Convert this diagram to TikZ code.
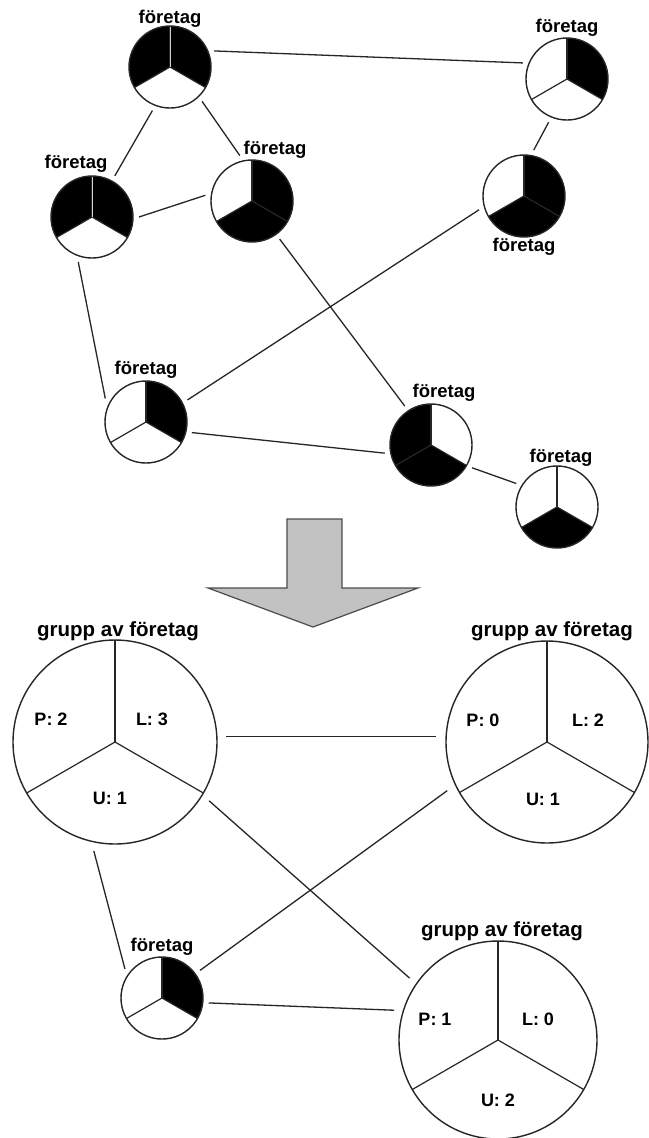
\documentclass[tikz,border=0pt]{standalone}
\usepackage{fontspec}
\setmainfont{Liberation Sans}

% Three-sector pie drawn on a named node; #2 lists the start angles
% of the black sectors (90 = upper left, -30 = upper right, 210 = bottom).
\newcommand\pieat[3][41]{%
  \begin{scope}[shift={(#2.center)},x=1pt,y=1pt]
    \foreach \a in {#3}
      \fill[black] (0,0) -- (\a:#1) arc[start angle=\a,delta angle=120,radius=#1] -- cycle;
    \foreach \a in {90,210,330}
      \draw[spoke] (0,0) -- (\a:#1);
    \draw[rim] (0,0) circle[radius=#1];
  \end{scope}}
% Light divider between two black sectors
\newcommand\lightspoke[1]{%
  \draw[gray!35,line width=1pt] (#1.center) -- ++(0,-40);}

\begin{document}
\begin{tikzpicture}[x=1pt,y=-1pt,
  pienode/.style={circle,minimum size=82pt,inner sep=0pt,outer sep=6pt},
  groupnode/.style={circle,minimum size=204pt,inner sep=0pt,outer sep=9pt},
  tag/.style={font=\bfseries\fontsize{18.5}{20}\selectfont,inner sep=0pt,anchor=base},
  grouptag/.style={font=\bfseries\fontsize{20.5}{22}\selectfont,inner sep=0pt,anchor=base},
  count/.style={font=\bfseries\fontsize{18}{20}\selectfont,inner sep=0pt,anchor=base},
  link/.style={draw=black!85,line width=1.3pt},
  rim/.style={draw=black!85,line width=1.4pt},
  spoke/.style={draw=black!85,line width=1.2pt},
  bigarrow/.style={fill=black!24,draw=black!70,line width=1.2pt,line join=miter},
]
\useasboundingbox (0,0) rectangle (648,1138);
\fill[white] (0,0) rectangle (648,1138);

% ---------- upper network: single firms ----------
\node[pienode] (A) at (170,67) {};
\node[pienode] (B) at (567,79) {};
\node[pienode] (C) at (524,196) {};
\node[pienode] (D) at (92,217) {};
\node[pienode] (E) at (252,201) {};
\node[pienode] (F) at (146,422) {};
\node[pienode] (G) at (431,445) {};
\node[pienode] (H) at (557,507) {};

\node[tag] (tA) at (170,23) {företag};
\node[tag] (tB) at (567,32) {företag};
\node[tag] (tC) at (524,251) {företag};
\node[tag] (tD) at (76,168) {företag};
\node[tag] (tE) at (275,154) {företag};
\node[tag] (tF) at (146,374) {företag};
\node[tag] (tG) at (444,397) {företag};
\node[tag] (tH) at (561,462) {företag};

\draw[link] (A.20) -- (B.160);
\draw[link] (A.-112) -- (D.61);
\draw[link] (A.-47) -- (E.105);
\draw[link] (D.0) -- (E.173);
\draw[link] (B.-113) -- (C.78);
\draw[link] (C.-163) -- (F.28);
\draw[link] (D.-107) -- (F.150);
\draw[link] (E.-54) -- (G.124);
\draw[link] (F.-13) -- (G.-170);
\draw[link] (G.-29) -- (H.150);

\pieat{A}{90,-30}  \lightspoke{A}
\pieat{B}{-30}
\pieat{C}{-30,210}
\pieat{D}{90,-30}  \lightspoke{D}
\pieat{E}{-30,210}
\pieat{F}{-30}
\pieat{G}{90,210}
\pieat{H}{210}

% ---------- transition arrow ----------
\path[bigarrow] (287,519) -- (342,519) -- (342,588) -- (418,588)
  -- (313,627) -- (208,588) -- (287,588) -- cycle;

% ---------- lower network: firm groups ----------
\node[groupnode] (P) at (115,742) {};
\node[groupnode] (Q) at (547,742) {};
\node[groupnode,minimum size=198pt] (R) at (498,1040) {};
\node[pienode] (S) at (162,998) {};

\node[grouptag] (tP) at (118,636) {grupp av företag};
\node[grouptag] (tQ) at (552,636) {grupp av företag};
\node[grouptag] (tR) at (502,936) {grupp av företag};
\node[tag] (tS) at (162,951) {företag};

\draw[link] (P.3) -- (Q.177);
\draw[link] (P.-32) -- (R.145);
\draw[link] (P.-101) -- (S.142);
\draw[link] (Q.-154) -- (S.36);
\draw[link] (S.-6) -- (R.164);

\pieat[102]{P}{}
\pieat[101]{Q}{}
\pieat[99]{R}{}
\pieat{S}{-30}

\node[count] (pP) at (51,725) {P: 2};
\node[count] (lP) at (152,725) {L: 3};
\node[count] (uP) at (110,804) {U: 1};
\node[count] (pQ) at (483,726) {P: 0};
\node[count] (lQ) at (588,726) {L: 2};
\node[count] (uQ) at (543,805) {U: 1};
\node[count] (pR) at (435,1025) {P: 1};
\node[count] (lR) at (538,1025) {L: 0};
\node[count] (uR) at (498,1106) {U: 2};
\end{tikzpicture}
\end{document}
